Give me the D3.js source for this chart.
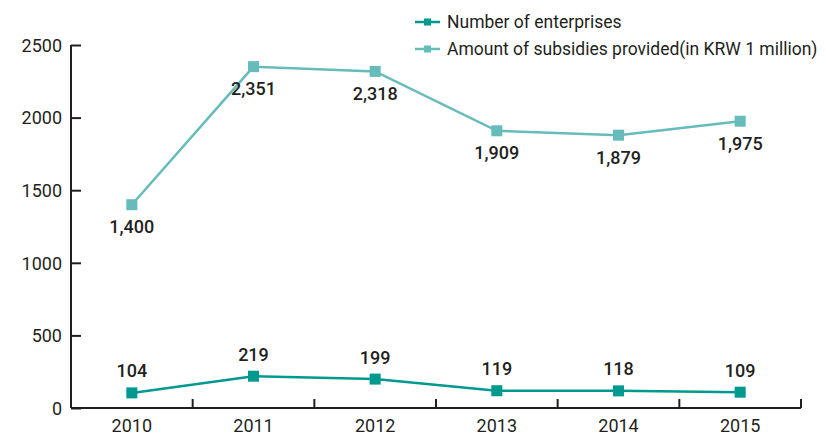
<!DOCTYPE html>
<html>
<head>
  <meta charset="utf-8">
  <title>Enterprises and subsidies</title>
  <style>
    body { margin: 0; background: #fff; font-family: Roboto, "DejaVu Sans", sans-serif; }
    .axis path, .axis line { stroke: #231f20; stroke-width: 2; }
    .axis text { font-size: 18px; fill: #231f20; font-family: Roboto, sans-serif; }
    .label { font-size: 18px; font-weight: 500; fill: #231f20; }
    .legend text { font-size: 17.5px; fill: #231f20; }
  </style>
</head>
<body>
  <div id="chart"></div>
  <script src="https://d3js.org/d3.v7.min.js"></script>
  <script>
    // data
    var years = ["2010", "2011", "2012", "2013", "2014", "2015"];
    var enterprises = [104, 219, 199, 119, 118, 109];
    var subsidies = [1400, 2351, 2318, 1909, 1879, 1975];
    var yTicks = [0, 500, 1000, 1500, 2000, 2500];

    var width = 826, height = 436;
    var margin = { top: 45, right: 25, bottom: 28, left: 71 };

    var svg = d3.select("#chart").append("svg")
      .attr("width", width)
      .attr("height", height);

    var x = d3.scaleBand()
      .domain(years)
      .range([margin.left, width - margin.right]);

    var y = d3.scaleLinear()
      .domain([0, 2500])
      .range([height - margin.bottom, margin.top]);

    var fmt = d3.format(",");

    // x axis, ticks on the band edges pointing up
    var xg = svg.append("g").attr("class", "axis")
      .attr("transform", "translate(0," + y(0) + ")");
    xg.append("line")
      .attr("x1", margin.left).attr("x2", width - margin.right)
      .attr("y1", 0).attr("y2", 0);
    var edges = years.map(function (d) { return x(d); }).slice(1).concat([x.range()[1]]);
    xg.selectAll(".edge").data(edges).enter().append("line")
      .attr("x1", function (d) { return d; }).attr("x2", function (d) { return d; })
      .attr("y1", 0).attr("y2", -9);
    xg.selectAll("text").data(years).enter().append("text")
      .attr("x", function (d) { return x(d) + x.bandwidth() / 2; })
      .attr("y", 24)
      .attr("text-anchor", "middle")
      .text(function (d) { return d; });

    // y axis, ticks pointing right
    var yg = svg.append("g").attr("class", "axis")
      .attr("transform", "translate(" + margin.left + ",0)")
      .call(d3.axisRight(y).tickValues(yTicks).tickSize(10).tickFormat(""));
    yg.select(".domain").attr("d", "M0," + y(2500) + "V" + y(0));
    yg.selectAll(".tick").append("text")
      .attr("x", -9).attr("dy", "0.35em")
      .attr("text-anchor", "end")
      .text(function (d) { return d; });

    var cx = function (d, i) { return x(years[i]) + x.bandwidth() / 2; };

    function drawSeries(values, color, labelDy) {
      var line = d3.line()
        .x(function (d, i) { return cx(d, i); })
        .y(function (d) { return y(d); });
      svg.append("path")
        .datum(values)
        .attr("fill", "none")
        .attr("stroke", color)
        .attr("stroke-width", 2.5)
        .attr("d", line);
      svg.append("g").selectAll("rect").data(values).enter().append("rect")
        .attr("x", function (d, i) { return cx(d, i) - 5.5; })
        .attr("y", function (d) { return y(d) - 5.5; })
        .attr("width", 11).attr("height", 11)
        .attr("fill", color);
      svg.append("g").selectAll("text").data(values).enter().append("text")
        .attr("class", "label")
        .attr("x", function (d, i) { return cx(d, i); })
        .attr("y", function (d) { return y(d) + labelDy; })
        .attr("text-anchor", "middle")
        .text(function (d) { return fmt(d); });
    }

    drawSeries(subsidies, "#66bcbb", 28.5);
    drawSeries(enterprises, "#00998f", -15.5);

    // legend
    var legend = svg.append("g").attr("class", "legend");
    var items = [
      { name: "Number of enterprises", color: "#00998f" },
      { name: "Amount of subsidies provided(in KRW 1 million)", color: "#66bcbb" }
    ];
    items.forEach(function (it, i) {
      var ly = 22 + i * 27;
      legend.append("line")
        .attr("x1", 415).attr("x2", 440)
        .attr("y1", ly).attr("y2", ly)
        .attr("stroke", it.color).attr("stroke-width", 2.5);
      legend.append("rect")
        .attr("x", 424).attr("y", ly - 3.5)
        .attr("width", 7).attr("height", 7)
        .attr("fill", it.color);
      legend.append("text")
        .attr("x", 447).attr("y", ly).attr("dy", "0.35em")
        .text(it.name);
    });
  </script>
</body>
</html>
